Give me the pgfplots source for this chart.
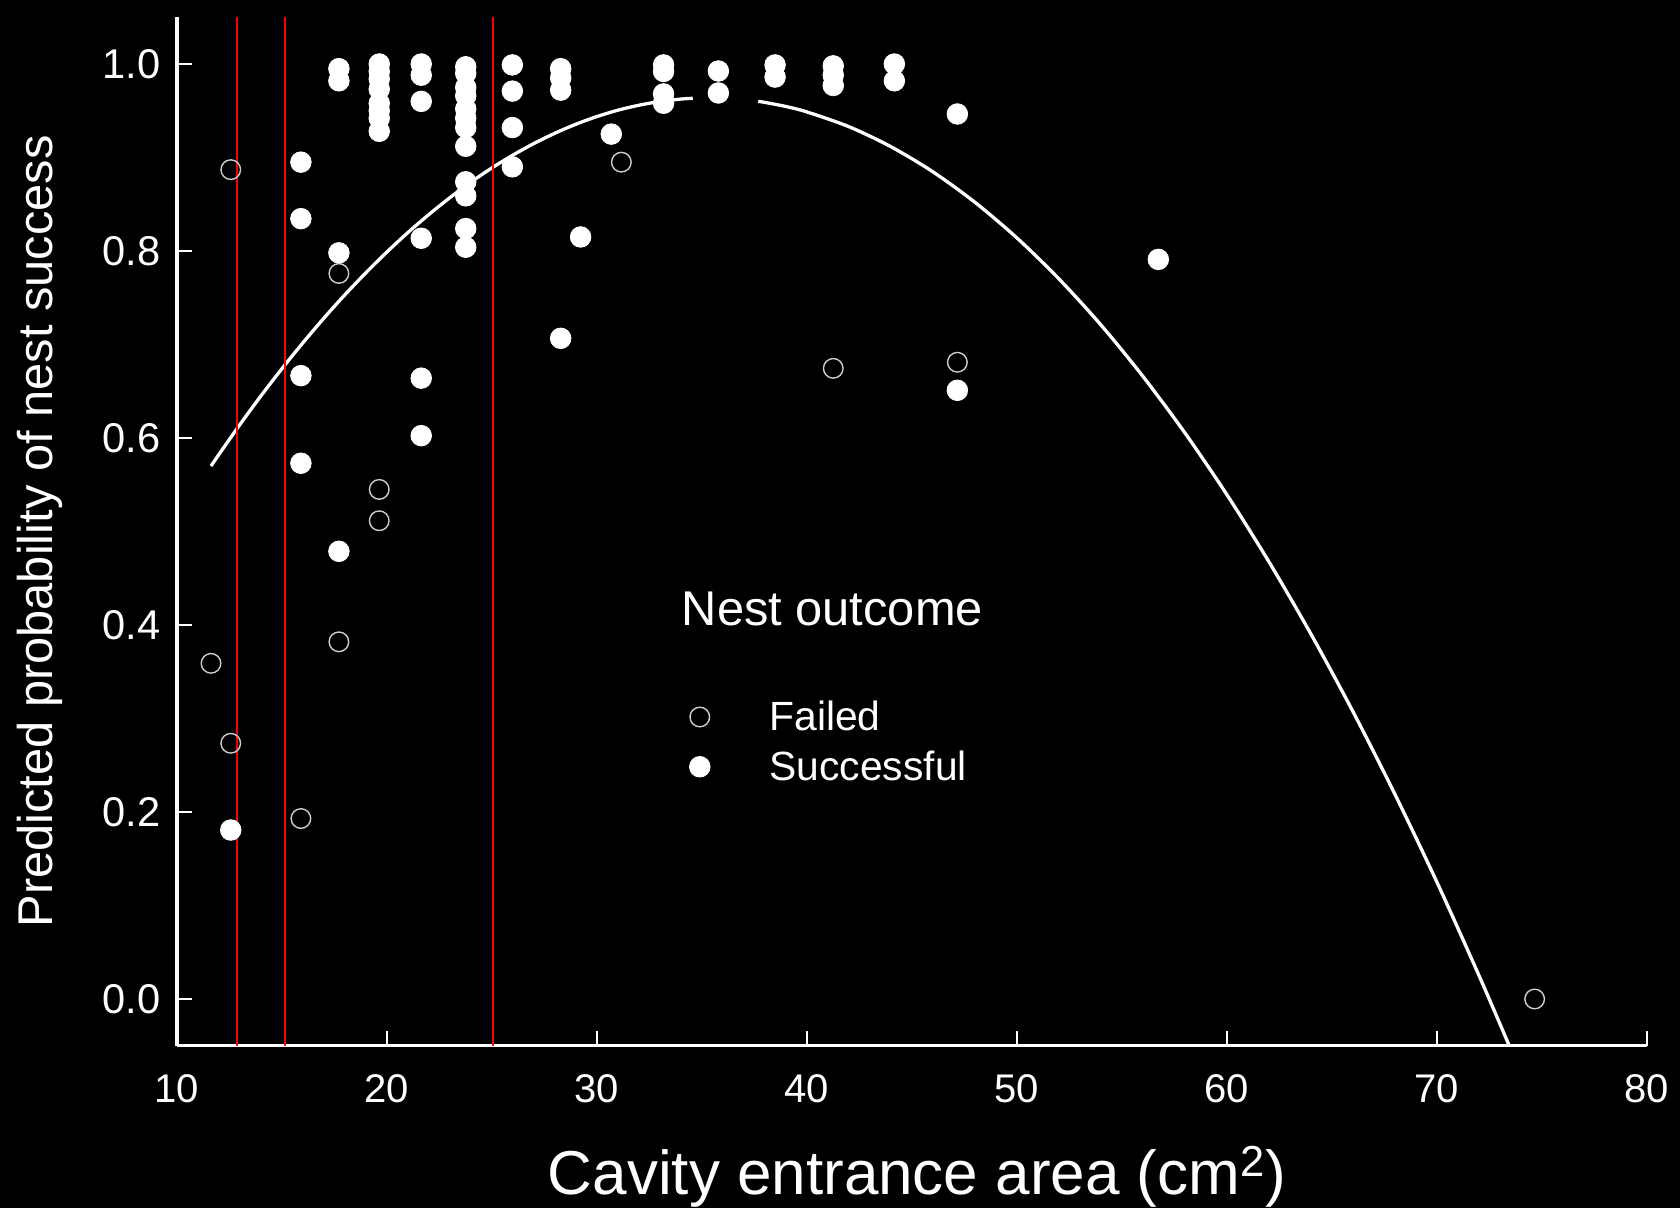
\documentclass[border=0pt]{standalone}
\usepackage{fontspec}
\setmainfont{Liberation Sans}
\usepackage{pgfplots}
\pgfplotsset{compat=1.18}
\definecolor{opencol}{RGB}{205,205,205}
\begin{document}
\begin{tikzpicture}
\fill[black] (-88.5pt,-81.125pt) rectangle (751.5pt,522.875pt);
\useasboundingbox (-88.5pt,-81.125pt) rectangle (751.5pt,522.875pt);
\begin{axis}[
  scale only axis, width=735pt, height=514.25pt,
  xmin=10, xmax=80, ymin=-0.05, ymax=1.05,
  axis x line*=bottom, axis y line*=left,
  axis line style={white, line width=1.6pt},
  xtick={10,20,30,40,50,60,70,80},
  ytick={0,0.2,0.4,0.6,0.8,1},
  tick align=inside, major tick length=7.5pt,
  major tick style={white, line width=1.4pt},
  tick label style={white, font=\fontsize{20}{24}\selectfont},
  xticklabel style={yshift=-10.7pt},
  yticklabel style={font=\fontsize{20.8}{24}\selectfont, xshift=-4.8pt, /pgf/number format/.cd, fixed, fixed zerofill, precision=1, /pgf/number format/assume math mode=true},
  xticklabel style={/pgf/number format/assume math mode=true},
  xlabel={Cavity entrance area (cm\textsuperscript{2})},
  ylabel={Predicted probability of nest success},
  xlabel style={font=\fontsize{31}{37}\selectfont, white, at={(axis description cs:0.5034,-0.1451)}, anchor=base},
  ylabel style={font=\fontsize{24.4}{29}\selectfont, white, at={(axis description cs:-0.0844,0.5)}, anchor=base},
  legend style={draw=none, fill=none, text=white, font=\fontsize{20.4}{24}\selectfont, at={(axis cs:34.1,0.328)}, anchor=north west, row sep=4.6pt, /tikz/every odd column/.append style={column sep=27.7pt}},
  legend cell align=left,
  clip=false,
]
\addplot[white, line width=1.65pt, smooth, forget plot] coordinates {
(11.62,0.5700) (12,0.5825) (13,0.6145) (14,0.6451) (15,0.6742) (16,0.7019) (17,0.7283) (18,0.7533) (19,0.7768) (20,0.7990) (21,0.8198) (22,0.8391) (23,0.8571) (24,0.8737) (25,0.8889) (26,0.9026) (27,0.9150) (28,0.9260) (29,0.9356) (30,0.9438) (31,0.9506) (32,0.9559) (33,0.9599) (34,0.9625) (34.56,0.9633)};
\addplot[white, line width=1.65pt, smooth, forget plot] coordinates {
(37.68,0.9600) (38,0.9589) (39,0.9545) (40,0.9487) (42,0.9329) (44,0.9115) (46,0.8846) (48,0.8520) (50,0.8139) (52,0.7701) (54,0.7208) (56,0.6658) (58,0.6053) (60,0.5392) (62,0.4675) (64,0.3902) (66,0.3073) (68,0.2188) (70,0.1248) (72,0.0251) (73.44,-0.05)};
\addplot[only marks, mark=o, mark size=4.9pt, mark options={draw=opencol, line width=0.7pt}] coordinates {
(12.56,0.887) (17.71,0.776) (19.63,0.545) (19.63,0.5115) (17.71,0.382) (11.62,0.359) (12.56,0.2735) (15.90,0.193) (31.16,0.895) (41.25,0.6745) (47.16,0.681) (74.65,0.0)};
\addlegendentry{Failed}
\addplot[only marks, mark=*, mark size=5.15pt, mark options={draw=white, fill=white}] coordinates {
(12.56,0.1807)
(15.90,0.895) (15.90,0.8346) (15.90,0.6667) (15.90,0.573)
(17.71,0.995) (17.71,0.982) (17.71,0.798) (17.71,0.4788)
(19.63,1.0) (19.63,0.992) (19.63,0.984) (19.63,0.973) (19.63,0.958) (19.63,0.950) (19.63,0.942) (19.63,0.928)
(21.63,1.0) (21.63,0.988) (21.63,0.960) (21.63,0.8136) (21.63,0.664) (21.63,0.6025)
(23.75,0.997) (23.75,0.99) (23.75,0.975) (23.75,0.966) (23.75,0.952) (23.75,0.942) (23.75,0.932) (23.75,0.912) (23.75,0.874) (23.75,0.859) (23.75,0.824) (23.75,0.804)
(25.97,0.999) (25.97,0.971) (25.97,0.932) (25.97,0.890)
(28.27,0.995) (28.27,0.985) (28.27,0.972) (28.27,0.7066)
(29.22,0.815) (30.68,0.925)
(33.17,0.999) (33.17,0.992) (33.17,0.968) (33.17,0.958)
(35.78,0.9925) (35.78,0.969)
(38.48,0.999) (38.48,0.986)
(41.25,0.998) (41.25,0.988) (41.25,0.977)
(44.16,1.0) (44.16,0.982)
(47.16,0.9465) (47.16,0.651)
(56.73,0.791)};
\addlegendentry{Successful}
\addplot[red, line width=1pt, forget plot] coordinates {(12.85,-0.05) (12.85,1.05)};
\addplot[red, line width=1pt, forget plot] coordinates {(15.15,-0.05) (15.15,1.05)};
\addplot[red, line width=1pt, forget plot] coordinates {(25.05,-0.05) (25.05,1.05)};
\node[anchor=base west, white, font=\fontsize{24.4}{29}\selectfont, inner sep=0pt] at (axis cs:34.02,0.399) {Nest outcome};
\end{axis}
\end{tikzpicture}
\end{document}
